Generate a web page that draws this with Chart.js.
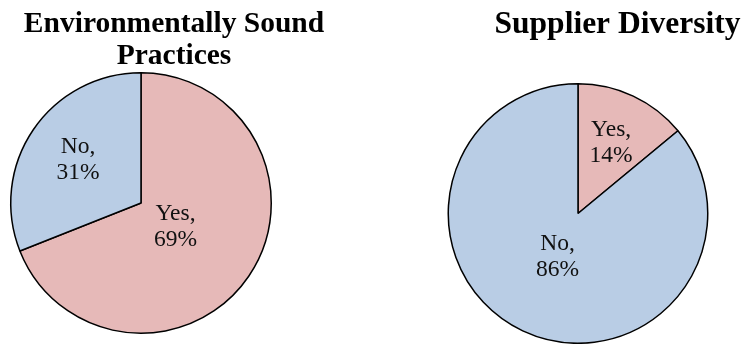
<!DOCTYPE html>
<html>
<head>
<meta charset="utf-8">
<script src="https://cdn.jsdelivr.net/npm/chart.js@4/dist/chart.umd.min.js"></script>
<style>
  html, body { margin: 0; padding: 0; background: #fff; width: 744px; height: 344px; overflow: hidden; position: relative; }
  canvas { position: absolute; top: 0; }
</style>
</head>
<body>
<canvas id="envChart" width="348" height="344" style="left:0px"></canvas>
<canvas id="supChart" width="341" height="344" style="left:447px"></canvas>
<script>
// ---- Data ----
const envTitle = ['Environmentally Sound', 'Practices'];
const envLabels = ['Yes', 'No'];
const envValues = [69, 31];

const supTitle = 'Supplier Diversity';
const supLabels = ['Yes', 'No'];
const supValues = [14, 86];

// ---- Styles ----
const yesColor = '#E6B9B8';
const noColor = '#B9CDE5';
const serif = "'Liberation Serif', 'Times New Roman', serif";

// Title box spans the whole canvas width (so it can be centred independently of the pie)
const fullWidthTitle = {
  id: 'fullWidthTitle',
  afterLayout(chart) {
    const t = chart.titleBlock;
    if (t) { t.left = 0; t.right = chart.width; t.width = chart.width; }
  }
};

// Data labels inside slices: "Label," / "value%"
const sliceLabels = {
  id: 'sliceLabels',
  afterDatasetsDraw(chart, args, opts) {
    const meta = chart.getDatasetMeta(0);
    const ds = chart.data.datasets[0];
    const ctx = chart.ctx;
    ctx.save();
    ctx.font = opts.font;
    ctx.fillStyle = opts.color;
    ctx.textAlign = 'center';
    ctx.textBaseline = 'middle';
    meta.data.forEach((arc, i) => {
      const p = arc.getProps(['x', 'y', 'startAngle', 'endAngle', 'outerRadius'], true);
      const mid = (p.startAngle + p.endAngle) / 2;
      const r = p.outerRadius * opts.radial[i];
      const cx = p.x + Math.cos(mid) * r;
      const cy = p.y + Math.sin(mid) * r;
      const lines = [chart.data.labels[i] + ',', ds.data[i] + '%'];
      lines.forEach((ln, k) => {
        ctx.fillText(ln, cx, cy + (k - (lines.length - 1) / 2) * opts.lineGap);
      });
    });
    ctx.restore();
  }
};

function makePie(id, title, titleSize, labels, values, colors, layoutPadding, titlePadding, radial) {
  return new Chart(document.getElementById(id), {
    type: 'pie',
    data: {
      labels: labels,
      datasets: [{
        data: values,
        backgroundColor: colors,
        borderColor: '#000',
        borderWidth: 1.5,
        hoverOffset: 0
      }]
    },
    options: {
      responsive: false,
      animation: false,
      events: [],
      layout: { padding: layoutPadding },
      plugins: {
        legend: { display: false },
        tooltip: { enabled: false },
        title: {
          display: true,
          text: title,
          color: '#000',
          font: { family: serif, size: titleSize, weight: 'bold', lineHeight: '32px' },
          padding: titlePadding
        },
        sliceLabels: {
          font: "23.5px " + serif,
          color: '#111',
          lineGap: 26,
          radial: radial
        }
      }
    },
    plugins: [fullWidthTitle, sliceLabels]
  });
}

makePie('envChart', envTitle, 29.5, envLabels, envValues, [yesColor, noColor],
  { left: 10, right: 76, top: 0, bottom: 10 }, { top: 8, bottom: 0 }, [0.32, 0.585]);

makePie('supChart', supTitle, 31.5, supLabels, supValues, [yesColor, noColor],
  { left: 0, right: 79, top: 0, bottom: 0 }, { top: 8.5, bottom: 42.5 }, [0.60, 0.37]);
</script>
</body>
</html>
